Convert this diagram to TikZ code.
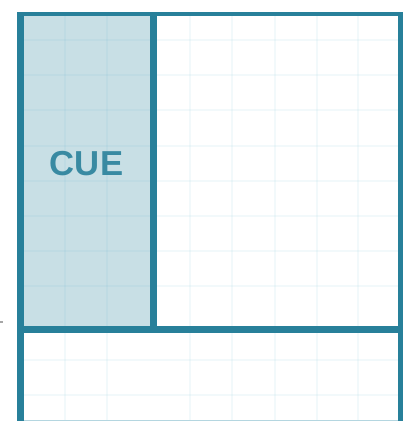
\documentclass[tikz,border=0pt]{standalone}
\usepackage{fontspec}
\setmainfont{Liberation Sans}
\definecolor{frame}{HTML}{28809A}
\definecolor{cuefill}{HTML}{C8DFE5}
\definecolor{edgeblue}{HTML}{B4D6E0}
\definecolor{gridtint}{HTML}{5FB3CC}
\tikzset{
 gridline/.style={draw=gridtint,opacity=.08,line width=1.5pt},
 wall/.style={draw=frame,line width=5pt},
 cuelabel/.style={text=frame!92,font=\fontsize{26}{30}\selectfont\bfseries}
}
\begin{document}
\begin{tikzpicture}[x=.75pt,y=-.75pt,line cap=butt,line join=miter]
 \useasboundingbox (0,0) rectangle (407,421);
 % cue panel
 \fill[cuefill] (20,13) rectangle (153,329);
 % grid
 \foreach \gx in {65,107,190,232,275,317,358}
  \draw[gridline] (\gx,13)--(\gx,421);
 \foreach \gy in {40,75,110,146,181,216,251,286,360,395}
  \draw[gridline] (20,\gy)--(400,\gy);
 % frame and dividers
 \draw[edgeblue,line width=1.5pt] (20,420.5)--(400,420.5);
 \draw[wall,line width=3pt] (17,13.5)--(403,13.5);
 \draw[wall] (20.5,12)--(20.5,421);
 \draw[wall,line width=4pt] (400.5,12)--(400.5,421);
 \draw[wall] (153.5,12)--(153.5,329.5);
 \draw[wall] (20,329.5)--(401,329.5);
 \node[cuelabel] (cue) at (86.5,163.5) {C\kern.5ptU\kern.5ptE};
 \draw[gray!70,line width=.8pt] (0,322)--(2.5,322);
\end{tikzpicture}
\end{document}
